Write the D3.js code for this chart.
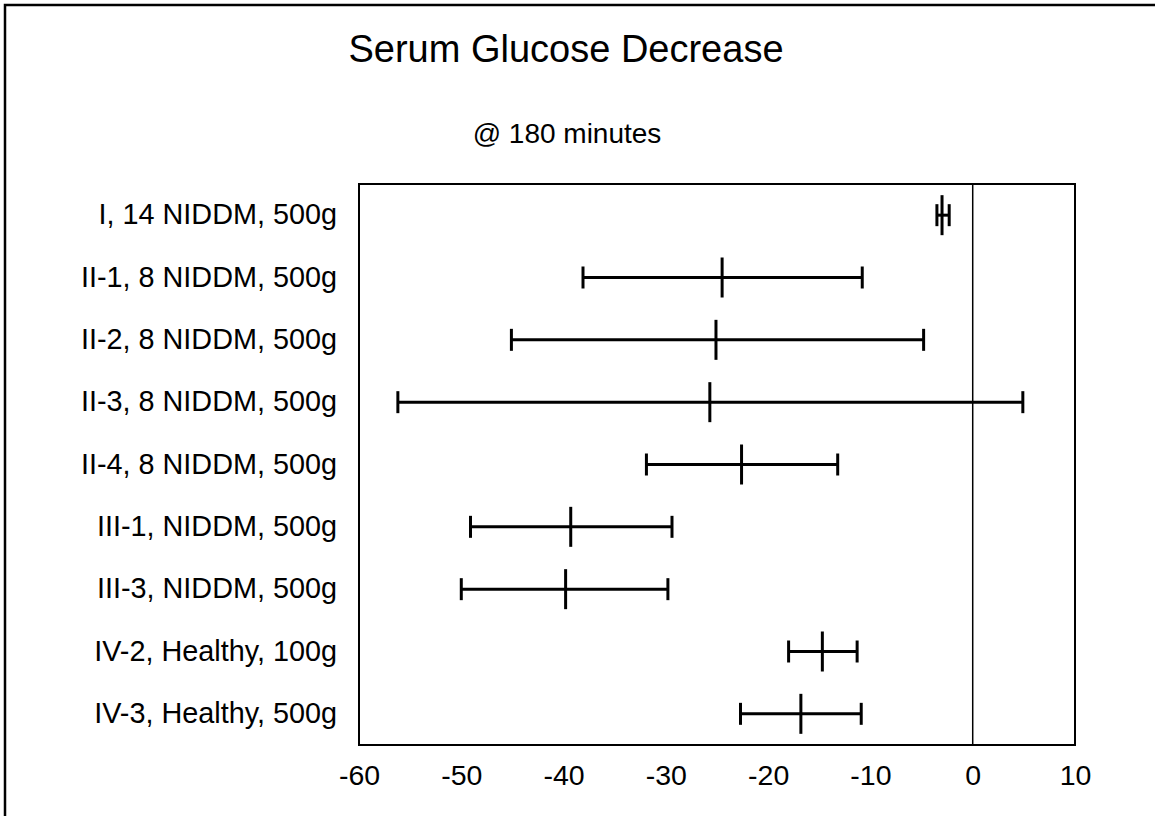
<!DOCTYPE html>
<html>
<head>
<meta charset="utf-8">
<script src="https://cdn.jsdelivr.net/npm/d3@7"></script>
<style>
  body { margin: 0; background: #fff; }
  text { font-family: "Liberation Sans", Arial, sans-serif; fill: #000; }
</style>
</head>
<body>
<svg id="chart" width="1155" height="816"></svg>
<script>
// groups, top to bottom
var groups = [
    "I, 14 NIDDM, 500g",
    "II-1, 8 NIDDM, 500g",
    "II-2, 8 NIDDM, 500g",
    "II-3, 8 NIDDM, 500g",
    "II-4, 8 NIDDM, 500g",
    "III-1, NIDDM, 500g",
    "III-3, NIDDM, 500g",
    "IV-2, Healthy, 100g",
    "IV-3, Healthy, 500g"
];
// mean and error bar ends
var means = [-3.0, -24.5, -25.1, -25.7, -22.6, -39.3, -39.8, -14.7, -16.8];
var lows  = [-3.5, -38.1, -45.1, -56.2, -31.9, -49.1, -50.0, -18.0, -22.7];
var highs = [-2.3, -10.8, -4.8, 4.9, -13.2, -29.4, -29.8, -11.3, -10.9];
var xTicks = [-60, -50, -40, -30, -20, -10, 0, 10];

var svg = d3.select("#chart");
var plotLeft = 359, plotRight = 1075, plotTop = 184, plotBottom = 745;

var x = d3.scaleLinear().domain([-60, 10]).range([plotLeft, plotRight]);
var y = d3.scaleBand().domain(groups).range([plotTop, plotBottom]);

// outer frame (only left and top visible)
svg.append("path")
    .attr("d", "M5,816 L5,5 L1155,5")
    .attr("fill", "none")
    .attr("stroke", "#000")
    .attr("stroke-width", 2.5);

// titles
svg.append("text").attr("x", 566).attr("y", 62)
    .attr("text-anchor", "middle").style("font-size", "38px")
    .text("Serum Glucose Decrease");
svg.append("text").attr("x", 567).attr("y", 143)
    .attr("text-anchor", "middle").style("font-size", "28px")
    .text("@ 180 minutes");

// plot box
svg.append("rect")
    .attr("x", plotLeft).attr("y", plotTop)
    .attr("width", plotRight - plotLeft).attr("height", plotBottom - plotTop)
    .attr("fill", "none").attr("stroke", "#000").attr("stroke-width", 2);

// zero line
svg.append("line")
    .attr("x1", x(0)).attr("x2", x(0))
    .attr("y1", plotTop).attr("y2", plotBottom)
    .attr("stroke", "#000").attr("stroke-width", 1.5);

// x axis labels, no ticks
var xAxis = d3.axisBottom(x).tickValues(xTicks).tickSize(0).tickPadding(20)
    .tickFormat(d => String(d));
var gx = svg.append("g").attr("transform", `translate(0, ${plotBottom})`).call(xAxis);
gx.select(".domain").remove();
gx.selectAll("text").style("font-size", "28.5px")
    .style("font-family", '"Liberation Sans", Arial, sans-serif').attr("fill", "#000");

// y axis labels
var yAxis = d3.axisLeft(y).tickSize(0).tickPadding(22);
var gy = svg.append("g").attr("transform", `translate(${plotLeft}, 0)`).call(yAxis);
gy.select(".domain").remove();
gy.selectAll("text").style("font-size", "28.8px")
    .style("font-family", '"Liberation Sans", Arial, sans-serif').attr("fill", "#000");

// error bars
var bars = svg.selectAll(".bar")
    .data(groups.map((g, i) => ({ g: g, m: means[i], lo: lows[i], hi: highs[i] })))
    .enter().append("g").attr("class", "bar")
    .attr("transform", d => `translate(0, ${y(d.g) + y.bandwidth() / 2})`);

bars.append("line")
    .attr("x1", d => x(d.lo)).attr("x2", d => x(d.hi))
    .attr("y1", 0).attr("y2", 0)
    .attr("stroke", "#000").attr("stroke-width", 3);
bars.append("line")
    .attr("x1", d => x(d.lo)).attr("x2", d => x(d.lo))
    .attr("y1", -11).attr("y2", 11)
    .attr("stroke", "#000").attr("stroke-width", 3);
bars.append("line")
    .attr("x1", d => x(d.hi)).attr("x2", d => x(d.hi))
    .attr("y1", -11).attr("y2", 11)
    .attr("stroke", "#000").attr("stroke-width", 3);
bars.append("line")
    .attr("x1", d => x(d.m)).attr("x2", d => x(d.m))
    .attr("y1", -20).attr("y2", 20)
    .attr("stroke", "#000").attr("stroke-width", 3);
</script>
</body>
</html>
